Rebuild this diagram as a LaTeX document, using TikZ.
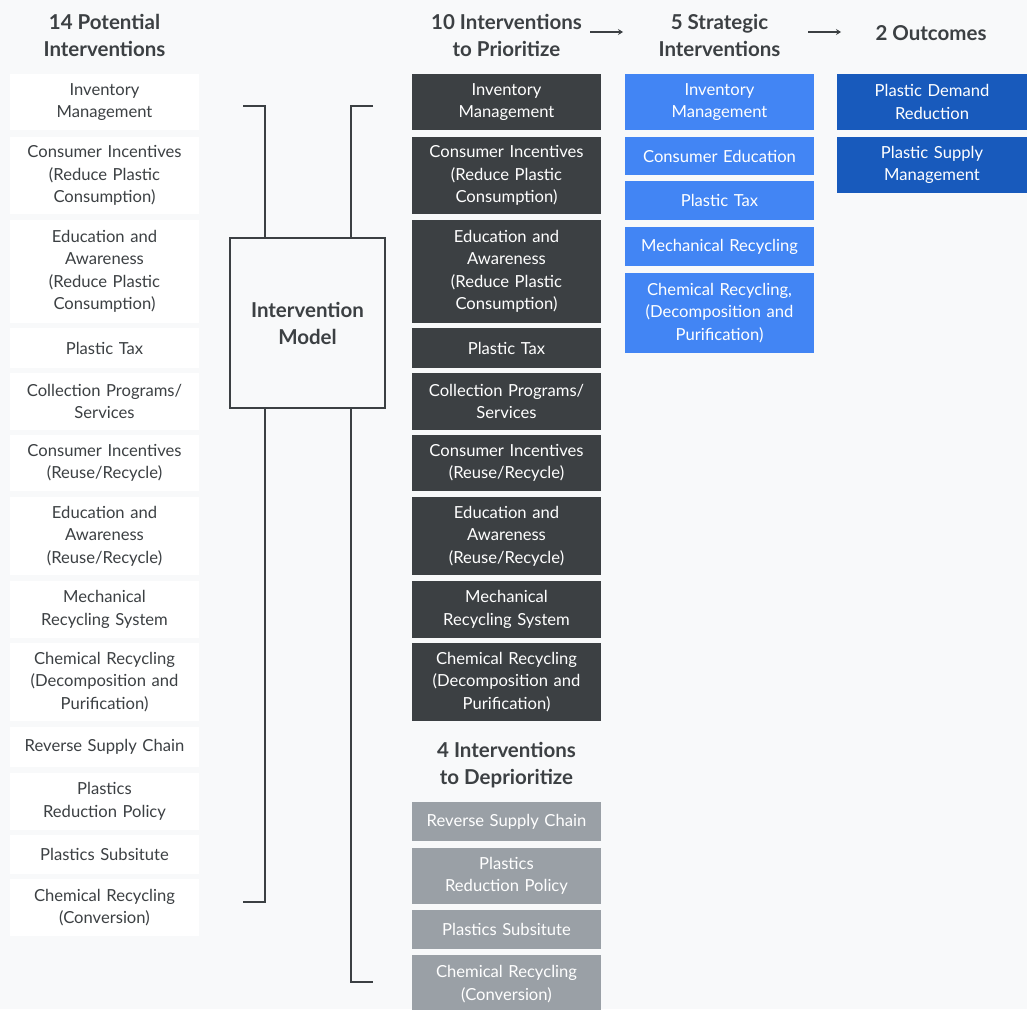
\documentclass[tikz,border=0pt]{standalone}
\usepackage{fontspec}
\setmainfont{Lato}
\newfontfamily\hdfont{Lato}
\usetikzlibrary{arrows.meta}
\definecolor{bg}{HTML}{F8F9FA}
\definecolor{ink}{HTML}{3C4043}
\definecolor{darkbox}{HTML}{3C4043}
\definecolor{graybox}{HTML}{9AA0A6}
\definecolor{bluebox}{HTML}{4285F4}
\definecolor{navybox}{HTML}{185ABC}
\tikzset{
  x=1pt, y=-1pt,
  cell/.style={rectangle, inner sep=0pt, minimum width=189pt, text width=187pt, align=center,
    font=\fontsize{16.6}{22.5}\selectfont},
  whitecell/.style={cell, fill=white, text=ink},
  darkcell/.style={cell, fill=darkbox, text=white},
  graycell/.style={cell, fill=graybox, text=white},
  bluecell/.style={cell, fill=bluebox, text=white},
  navycell/.style={cell, fill=navybox, text=white, minimum width=190pt},
  header/.style={align=center, text=ink, font=\hdfont\bfseries\fontsize{20.5}{27}\selectfont},
  brk/.style={draw=ink, line width=2.6pt},
  flow/.style={draw=ink, line width=2pt, -{Stealth[length=5pt,width=6pt]}}
}
\newcommand\bx[6]{\node[#1, minimum height={(#5-#4)*1pt}] (#2) at (#3,{(#4+#5)/2}) {#6};}
\begin{document}
\begin{tikzpicture}
\fill[bg] (0,0) rectangle (1027,1009);
\useasboundingbox (0,0) rectangle (1027,1009);

% headers
\node[header] (h1) at (104.5,35) {14 Potential\\Interventions};
\node[header] (h2) at (506.5,35) {10 Interventions\\to Prioritize};
\node[header] (h3) at (719.5,35) {5 Strategic\\Interventions};
\node[header] (h4) at (931,33) {2 Outcomes};
\node[header] (h5) at (506.5,765) {4 Interventions\\to Deprioritize};
\coordinate (a1s) at (590,32); \coordinate (a1e) at (623,32);
\coordinate (a2s) at (808,32); \coordinate (a2e) at (841,32);
\draw[flow] (a1s) -- (a1e);
\draw[flow] (a2s) -- (a2e);

% left column
\bx{whitecell}{l1}{104.5}{74}{130}{Inventory\\Management}
\bx{whitecell}{l2}{104.5}{137}{214}{Consumer Incentives\\(Reduce Plastic\\Consumption)}
\bx{whitecell}{l3}{104.5}{220}{323}{Education and\\Awareness\\(Reduce Plastic\\Consumption)}
\bx{whitecell}{l4}{104.5}{328}{368}{Plastic Tax}
\bx{whitecell}{l5}{104.5}{373}{430}{Collection Programs/\\Services}
\bx{whitecell}{l6}{104.5}{435}{491}{Consumer Incentives\\(Reuse/Recycle)}
\bx{whitecell}{l7}{104.5}{497}{575}{Education and\\Awareness\\(Reuse/Recycle)}
\bx{whitecell}{l8}{104.5}{581}{638}{Mechanical\\Recycling System}
\bx{whitecell}{l9}{104.5}{643}{721}{Chemical Recycling\\(Decomposition and\\Purification)}
\bx{whitecell}{l10}{104.5}{727}{767}{Reverse Supply Chain}
\bx{whitecell}{l11}{104.5}{773}{830}{Plastics\\Reduction Policy}
\bx{whitecell}{l12}{104.5}{835}{874}{Plastics Subsitute}
\bx{whitecell}{l13}{104.5}{879}{936}{Chemical Recycling\\(Conversion)}

% prioritized column
\bx{darkcell}{p1}{506.5}{74}{130}{Inventory\\Management}
\bx{darkcell}{p2}{506.5}{137}{214}{Consumer Incentives\\(Reduce Plastic\\Consumption)}
\bx{darkcell}{p3}{506.5}{220}{323}{Education and\\Awareness\\(Reduce Plastic\\Consumption)}
\bx{darkcell}{p4}{506.5}{328}{368}{Plastic Tax}
\bx{darkcell}{p5}{506.5}{373}{430}{Collection Programs/\\Services}
\bx{darkcell}{p6}{506.5}{435}{491}{Consumer Incentives\\(Reuse/Recycle)}
\bx{darkcell}{p7}{506.5}{497}{575}{Education and\\Awareness\\(Reuse/Recycle)}
\bx{darkcell}{p8}{506.5}{581}{638}{Mechanical\\Recycling System}
\bx{darkcell}{p9}{506.5}{643}{721}{Chemical Recycling\\(Decomposition and\\Purification)}

% deprioritized
\bx{graycell}{d1}{506.5}{802}{841}{Reverse Supply Chain}
\bx{graycell}{d2}{506.5}{848}{904}{Plastics\\Reduction Policy}
\bx{graycell}{d3}{506.5}{910}{949}{Plastics Subsitute}
\bx{graycell}{d4}{506.5}{955}{1013}{Chemical Recycling\\(Conversion)}

% strategic
\bx{bluecell}{s1}{719.5}{74}{130}{Inventory\\Management}
\bx{bluecell}{s2}{719.5}{137}{175}{Consumer Education}
\bx{bluecell}{s3}{719.5}{181}{220}{Plastic Tax}
\bx{bluecell}{s4}{719.5}{227}{266}{Mechanical Recycling}
\bx{bluecell}{s5}{719.5}{273}{353}{Chemical Recycling,\\(Decomposition and\\Purification)}

% outcomes
\bx{navycell}{o1}{932}{74}{130}{Plastic Demand\\Reduction}
\bx{navycell}{o2}{932}{137}{193}{Plastic Supply\\Management}

% intervention model
\node[draw=ink, line width=2.6pt, fill=bg, minimum width=155pt, minimum height=170pt, inner sep=0pt,
  align=center, text=ink, font=\hdfont\bfseries\fontsize{20.5}{27}\selectfont] (im) at (307.5,323) {Intervention\\Model};

% brackets
\coordinate (lt) at (243,106); \coordinate (lb) at (243,902);
\coordinate (rt) at (373,106); \coordinate (rb) at (373,982);
\draw[brk] (lt) -| (im.north -| 265,0);
\draw[brk] (im.south -| 265,0) |- (lb);
\draw[brk] (rt) -| (im.north -| 351,0);
\draw[brk] (im.south -| 351,0) |- (rb);
\end{tikzpicture}
\end{document}
